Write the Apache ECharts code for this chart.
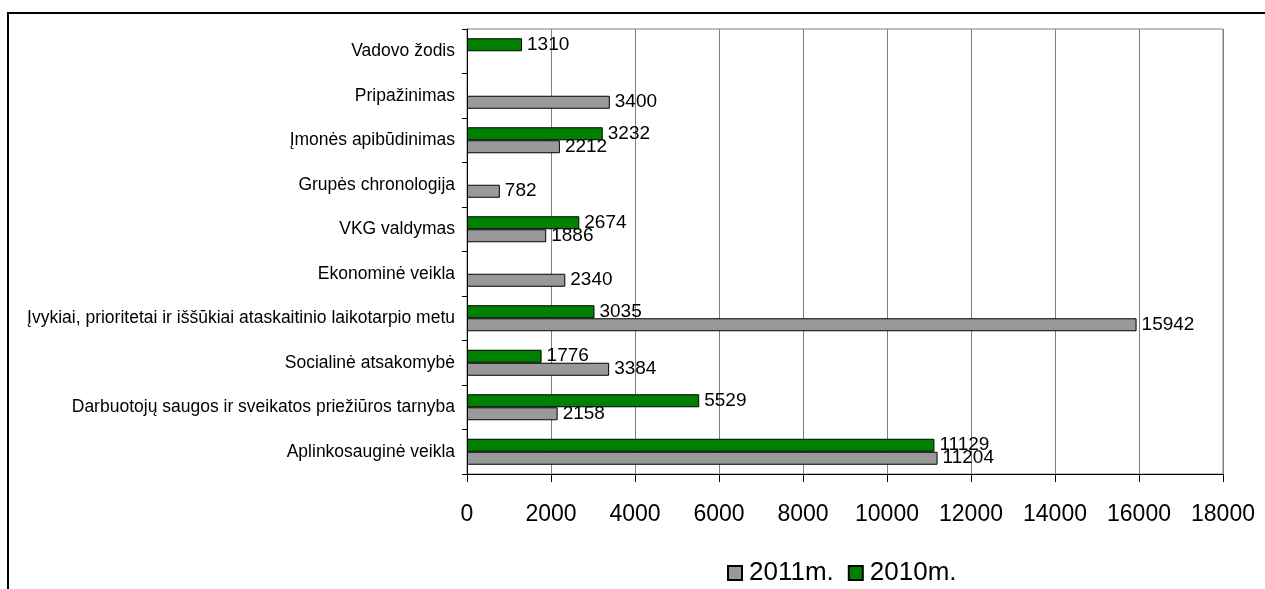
<!DOCTYPE html>
<html>
<head>
<meta charset="utf-8">
<script src="https://cdn.jsdelivr.net/npm/echarts@6/dist/echarts.min.js"></script>
<style>
  html, body { margin: 0; padding: 0; background: #fff; }
  #chart { width: 1265px; height: 589px; }
</style>
</head>
<body>
<div id="chart"></div>
<script>
// Report sections, listed bottom to top as they appear on the vertical axis
const categories = [
  'Aplinkosauginė veikla',
  'Darbuotojų saugos ir sveikatos priežiūros tarnyba',
  'Socialinė atsakomybė',
  'Įvykiai, prioritetai ir iššūkiai ataskaitinio laikotarpio metu',
  'Ekonominė veikla',
  'VKG valdymas',
  'Grupės chronologija',
  'Įmonės apibūdinimas',
  'Pripažinimas',
  'Vadovo žodis'
];

// Values per section (null = no value for that year)
const values2011 = [11204, 2158, 3384, 15942, 2340, 1886, 782, 2212, 3400, null];
const values2010 = [11129, 5529, 1776, 3035, null, 2674, null, 3232, null, 1310];

const seriesNames = ['2011m.', '2010m.'];
const xTicks = { min: 0, max: 18000, interval: 2000 };

const FONT = "'Liberation Sans', Arial, sans-serif";

const chart = echarts.init(document.getElementById('chart'), null, { renderer: 'canvas' });

const barLabel = {
  show: true,
  position: 'right',
  distance: 5,
  color: '#000',
  fontFamily: FONT,
  fontSize: 19
};

chart.setOption({
  animation: false,
  backgroundColor: '#fff',
  textStyle: { fontFamily: FONT },
  graphic: [{
    type: 'rect',
    shape: { x: 8, y: 13, width: 1400, height: 800 },
    style: { fill: null, stroke: '#000', lineWidth: 2 },
    silent: true,
    z: -1
  }],
  grid: {
    left: 467, right: 42, top: 29, bottom: 115,
    show: true, borderColor: '#808080', borderWidth: 1
  },
  legend: {
    data: seriesNames,
    left: 722, top: 555,
    icon: 'rect',
    itemWidth: 14, itemHeight: 14,
    itemGap: 14,
    textStyle: { fontFamily: FONT, fontSize: 26, color: '#000', padding: [0, 0, 0, 2] }
  },
  xAxis: {
    type: 'value',
    min: xTicks.min, max: xTicks.max, interval: xTicks.interval,
    axisLine: { show: true, lineStyle: { color: '#000', width: 1 } },
    axisTick: { show: true, length: 8, lineStyle: { color: '#000' } },
    axisLabel: {
      color: '#000', fontFamily: FONT, fontSize: 23, margin: 29,
      formatter: (v) => String(v)
    },
    splitLine: { show: true, lineStyle: { color: '#808080', width: 1 } }
  },
  yAxis: {
    type: 'category',
    data: categories,
    axisLine: { show: true, lineStyle: { color: '#000', width: 1 } },
    axisTick: { show: true, length: 5, lineStyle: { color: '#000' } },
    axisLabel: { color: '#000', fontFamily: FONT, fontSize: 17.5, margin: 12 },
    splitLine: { show: false }
  },
  series: [
    {
      name: seriesNames[1],
      type: 'bar',
      data: values2010,
      barWidth: 13,
      barGap: '0%',
      itemStyle: { color: '#008000', borderColor: '#000', borderWidth: 1 },
      label: barLabel
    },
    {
      name: seriesNames[0],
      type: 'bar',
      data: values2011,
      barWidth: 13,
      barGap: '0%',
      itemStyle: { color: '#999999', borderColor: '#000', borderWidth: 1 },
      label: barLabel
    }
  ]
});
</script>
</body>
</html>
